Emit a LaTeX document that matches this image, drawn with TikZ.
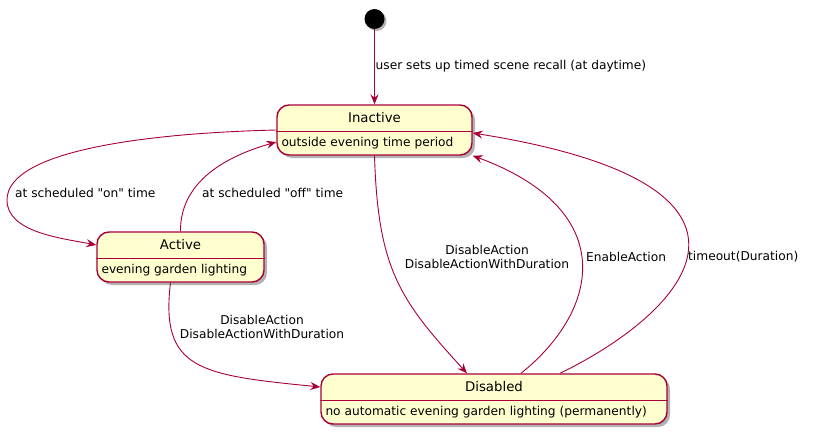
\documentclass[tikz,border=0pt]{standalone}
\usepackage{fontspec}
\setmainfont{DejaVu Sans}[Ligatures=TeXOff]
\usetikzlibrary{arrows.meta,shadows,positioning}
\definecolor{umlred}{HTML}{A80036}
\definecolor{umlfill}{HTML}{FEFECE}

\begin{document}
\begin{tikzpicture}[x=1pt, y=-1pt,
    umlstate/.style={draw=umlred, fill=umlfill, line width=1.4pt, rounded corners=12pt,
        minimum height=50pt, inner sep=0pt,
        drop shadow={shadow xshift=3pt, shadow yshift=-3pt, opacity=0.3, fill=black}},
    statename/.style={inner sep=0pt, font=\fontsize{13.3}{15}\selectfont},
    statebody/.style={anchor=west, inner xsep=5pt, inner ysep=0pt, font=\fontsize{12.2}{14}\selectfont},
    divider/.style={draw=umlred, line width=1.1pt},
    startdot/.style={circle, fill=black, minimum size=20pt, inner sep=0pt,
        drop shadow={shadow xshift=2pt, shadow yshift=-2pt, opacity=0.3, fill=black}},
    trans/.style={draw=umlred, line width=0.9pt, -{Stealth[length=10pt, width=8pt, inset=3.5pt]}},
    edgetext/.style={inner sep=0pt, align=center, font=\fontsize{12.2}{14}\selectfont}]

    \useasboundingbox (0,0) rectangle (814,434);

    % Start
    \node[startdot] (start) at (374.5,19) {};

    % States
    \node[umlstate, minimum width=195pt] (inactive) at (374.5,130) {};
    \node[statename] (inactive-name) at ([yshift=-13.5pt]inactive.north) {Inactive};
    \node[statebody] (inactive-body) at ([yshift=-13.5pt]inactive.west) {outside evening time period};
    \draw[divider] ([yshift=-27pt]inactive.north west) -- ([yshift=-27pt]inactive.north east);

    \node[umlstate, minimum width=167pt] (active) at (180.5,257) {};
    \node[statename] (active-name) at ([yshift=-13.5pt]active.north) {Active};
    \node[statebody] (active-body) at ([yshift=-13.5pt]active.west) {evening garden lighting};
    \draw[divider] ([yshift=-27pt]active.north west) -- ([yshift=-27pt]active.north east);

    \node[umlstate, minimum width=346pt] (disabled) at (494,399) {};
    \node[statename] (disabled-name) at ([yshift=-13.5pt]disabled.north) {Disabled};
    \node[statebody] (disabled-body) at ([yshift=-13.5pt]disabled.west) {no automatic evening garden lighting (permanently)};
    \draw[divider] ([yshift=-27pt]disabled.north west) -- ([yshift=-27pt]disabled.north east);

    % Transitions
    \draw[trans] (start) -- (inactive);
    \draw[trans] (inactive.west) .. controls (150,133) and (7,150) .. (7,200)
        .. controls (7,232) and (60,238) .. ([yshift=12pt]active.west);
    \draw[trans] (active.north) .. controls (180,185) and (220,158) .. ([yshift=-12pt]inactive.west);
    \draw[trans] (inactive.south) .. controls (378,270) and (400,300) .. ([xshift=-27pt]disabled.north);
    \draw[trans] ([xshift=-10pt]active.south) .. controls (160,370) and (200,375) .. ([yshift=12pt]disabled.west);
    \draw[trans] ([xshift=27pt]disabled.north) .. controls (600,310) and (620,210) .. (inactive.south east);
    \draw[trans] ([xshift=66pt]disabled.north) .. controls (690,310) and (800,185) .. ([yshift=-3pt]inactive.east);

    % Labels
    \node[edgetext, anchor=west] (setup-text) at (375.5,66) {user sets up timed scene recall (at daytime)};
    \node[edgetext, anchor=west] (on-text) at (15,193) {at scheduled "on" time};
    \node[edgetext, anchor=west] (off-text) at (202,193) {at scheduled "off" time};
    \node[edgetext] (disable-text) at (487,257) {DisableAction\\DisableActionWithDuration};
    \node[edgetext] (disable2-text) at (262,327) {DisableAction\\DisableActionWithDuration};
    \node[edgetext, anchor=west] (enable-text) at (586,257) {EnableAction};
    \node[edgetext, anchor=west] (timeout-text) at (688,257) {timeout(Duration)};
\end{tikzpicture}
\end{document}
